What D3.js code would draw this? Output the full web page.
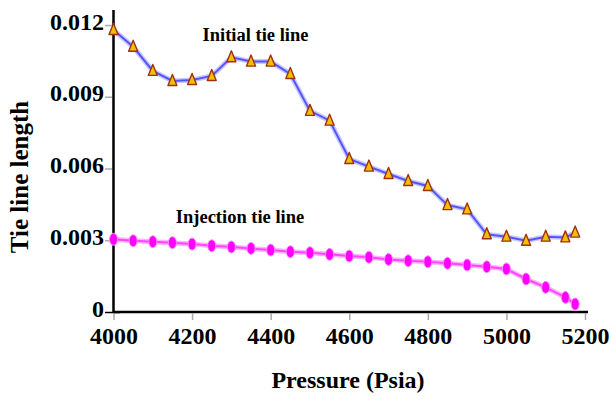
<!DOCTYPE html>
<html><head><meta charset="utf-8">
<script src="https://cdn.jsdelivr.net/npm/d3@7/dist/d3.min.js"></script>
<style>
body{margin:0;background:#fff;}
text{font-family:"Liberation Serif","Times New Roman",serif;font-weight:bold;fill:#000;}
</style></head>
<body><svg id="c" width="612" height="397"></svg>
<script>
const initialPressure = [4000,4050,4100,4150,4200,4250,4300,4350,4400,4450,4500,4550,4600,4650,4700,4750,4800,4850,4900,4950,5000,5050,5100,5150,5175];
const initialLength = [0.01179,0.01109,0.01008,0.00966,0.00970,0.00987,0.01065,0.01047,0.01047,0.00995,0.00841,0.00800,0.00640,0.00608,0.00577,0.00548,0.00527,0.00447,0.00429,0.00325,0.00315,0.00298,0.00315,0.00312,0.00332];
const injectionPressure = [4000,4050,4100,4150,4200,4250,4300,4350,4400,4450,4500,4550,4600,4650,4700,4750,4800,4850,4900,4950,5000,5050,5100,5150,5175];
const injectionLength = [0.00304,0.00298,0.00294,0.00290,0.00284,0.00277,0.00272,0.00266,0.00259,0.00252,0.00248,0.00241,0.00234,0.00229,0.00220,0.00214,0.00210,0.00204,0.00197,0.00189,0.00180,0.00138,0.00103,0.00061,0.00033];
const xTicks = [4000,4200,4400,4600,4800,5000,5200];
const yTicks = [0,0.003,0.006,0.009,0.012];
const yTickLabels = ["0","0.003","0.006","0.009","0.012"];

const svg = d3.select("#c");
const x = d3.scaleLinear().domain([4000,5200]).range([113.5,585]);
const y = d3.scaleLinear().domain([0,0.012]).range([312,25]);

// axes lines
svg.append("line").attr("x1",113.5).attr("x2",588).attr("y1",312).attr("y2",312).attr("stroke","#000").attr("stroke-width",2.5);
svg.append("line").attr("x1",113.5).attr("x2",113.5).attr("y1",10).attr("y2",313).attr("stroke","#000").attr("stroke-width",2.5);

// ticks
const xAxis = d3.axisBottom(x).tickValues(xTicks).tickSize(7).tickFormat(d3.format("d"));
const gx = svg.append("g").attr("transform","translate(0,313)").call(xAxis);
gx.select(".domain").remove();
gx.selectAll(".tick line").attr("stroke","#aaa").attr("stroke-width",1.5);
gx.selectAll(".tick text").attr("font-size",24).attr("dy",null).attr("y",31).attr("font-family","Liberation Serif").attr("font-weight","bold").attr("fill","#000");

const yAxis = d3.axisLeft(y).tickValues(yTicks).tickSize(7).tickFormat((d,i)=>yTickLabels[i]);
const gy = svg.append("g").attr("transform","translate(112,0)").call(yAxis);
gy.select(".domain").remove();
gy.selectAll(".tick line").attr("stroke","#aaa").attr("stroke-width",1.5);
gy.selectAll(".tick text").attr("font-size",24).attr("x",-8).attr("dy","0.17em").attr("font-family","Liberation Serif").attr("font-weight","bold").attr("fill","#000");
gy.selectAll(".tick").filter(d=>d===0).select("line").attr("stroke","#000").attr("x1",8).attr("x2",-7);

const line = d3.line().x(d=>x(d[0])).y(d=>y(d[1]));
const initData = initialPressure.map((p,i)=>[p,initialLength[i]]);
const injData = injectionPressure.map((p,i)=>[p,injectionLength[i]]);

// injection line
svg.append("path").datum(injData).attr("d",line).attr("fill","none").attr("stroke","#ffb3ff").attr("stroke-width",5);
svg.append("path").datum(injData).attr("d",line).attr("fill","none").attr("stroke","#ff44ff").attr("stroke-width",2);
svg.selectAll(".inj").data(injData).enter().append("ellipse")
  .attr("cx",d=>x(d[0])).attr("cy",d=>y(d[1])).attr("rx",4).attr("ry",6)
  .attr("fill","#ff00ff").attr("stroke","#ff88ff").attr("stroke-width",1);

// initial line
svg.append("path").datum(initData).attr("d",line).attr("fill","none").attr("stroke","#c8c8ff").attr("stroke-width",5);
svg.append("path").datum(initData).attr("d",line).attr("fill","none").attr("stroke","#5555ff").attr("stroke-width",2);
svg.selectAll(".ini").data(initData).enter().append("path")
  .attr("d","M0,-6.5 L4.5,4.5 L-4.5,4.5 Z")
  .attr("transform",d=>`translate(${x(d[0])},${y(d[1])})`)
  .attr("fill","#f0c000").attr("stroke","#a03010").attr("stroke-width",1.4).attr("stroke-linejoin","round");

// labels
svg.append("text").attr("x",255.5).attr("y",41).attr("text-anchor","middle").attr("font-size",18.5).text("Initial tie line");
svg.append("text").attr("x",240).attr("y",223).attr("text-anchor","middle").attr("font-size",18.5).text("Injection tie line");
svg.append("text").attr("transform","translate(28,177) rotate(-90)").attr("text-anchor","middle").attr("font-size",25).text("Tie line length");
svg.append("text").attr("x",348).attr("y",388).attr("text-anchor","middle").attr("font-size",24).text("Pressure (Psia)");
</script></body></html>
